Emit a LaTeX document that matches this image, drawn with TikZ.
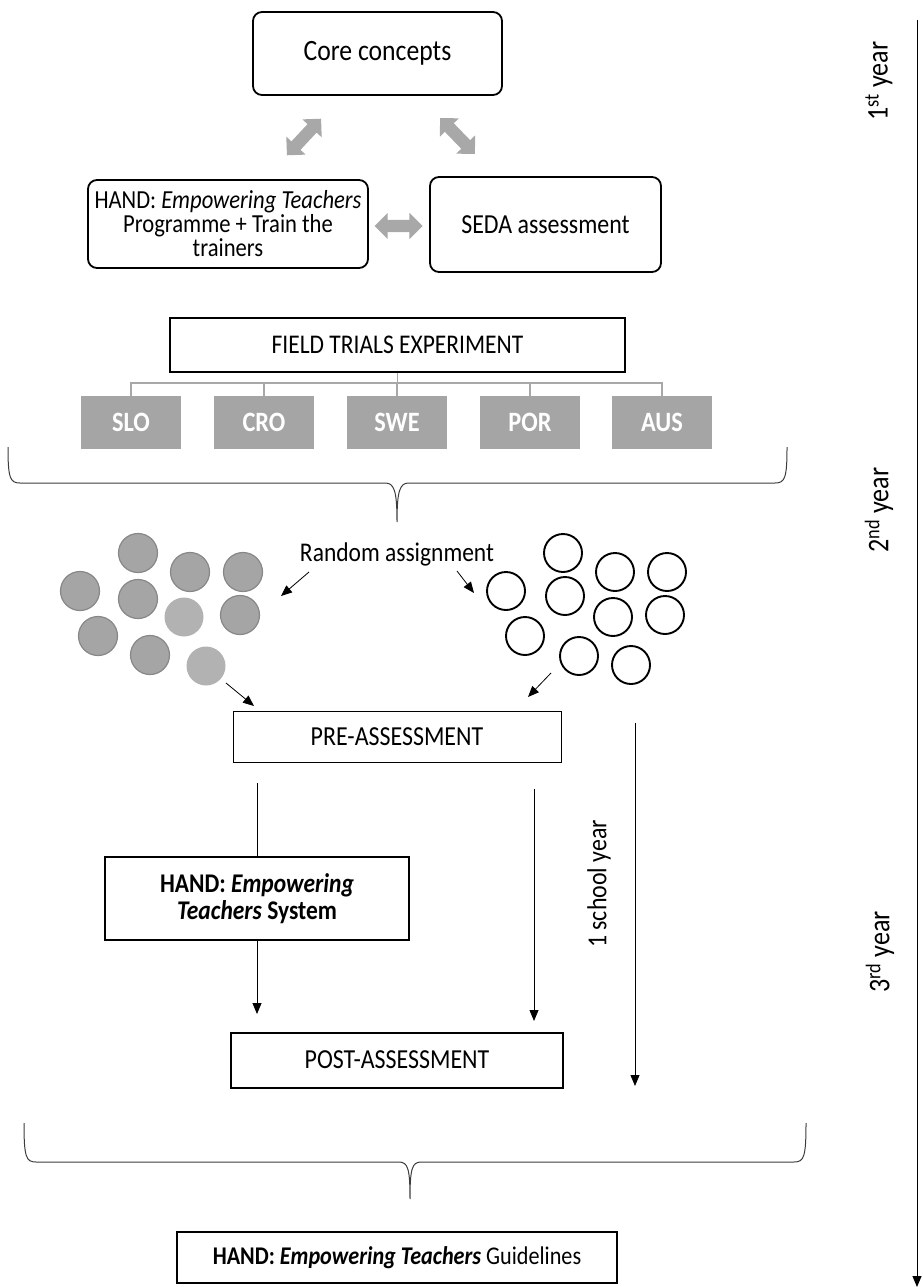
\documentclass[tikz,border=0pt]{standalone}
\usepackage{fontspec}
\setmainfont{Carlito}[FakeStretch=0.87]
\usetikzlibrary{arrows.meta,shapes.arrows}
\definecolor{cgray}{RGB}{165,165,165}
\definecolor{cgrayd}{RGB}{135,135,135}
\definecolor{lgray}{RGB}{178,178,178}
\definecolor{agray}{RGB}{168,168,168}
\definecolor{bracec}{RGB}{60,60,60}
\begin{document}
\begin{tikzpicture}[x=1pt,y=-1pt,
  txt/.style={font=\fontsize{27}{28}\selectfont},
  rbox/.style={draw,line width=1.8pt,rounded corners=9pt,inner sep=0,align=center,txt},
  sbox/.style={draw,line width=2pt,inner sep=0,align=center,txt},
  cbox/.style={fill=cgray,text=white,font=\fontsize{28}{30}\selectfont\bfseries,minimum width=100,minimum height=53,inner sep=0},
  garrow/.style={double arrow,fill=agray,draw=none,inner sep=6pt,minimum width=26,minimum height=50,double arrow head extend=7pt},
  gc/.style={circle,fill=cgray,draw=cgrayd,line width=1.2pt,minimum size=39,inner sep=0},
  lc/.style={circle,fill=lgray,minimum size=39,inner sep=0},
  wc/.style={circle,draw,line width=1.9pt,minimum size=38,inner sep=0},
  conn/.style={draw=agray,line width=1.5pt},
  arr/.style={line width=0.8pt,-{Triangle[length=11pt,width=9pt]}},
  brace/.style={draw=bracec,line width=1pt},
  ylab/.style={rotate=90,font=\fontsize{30}{32}\selectfont}
]
\useasboundingbox (0,0) rectangle (923,1287);

% top boxes
\node[rbox,minimum width=249,minimum height=83,font=\fontsize{29.5}{31}\selectfont] (core) at (377.5,53.5) {Core concepts};
\node[rbox,minimum width=280,minimum height=88,font=\fontsize{26}{24}\selectfont] (hand) at (228,224) {HAND: \textit{Empowering Teachers}\\Programme + Train the\\trainers};
\node[rbox,minimum width=231,minimum height=95,font=\fontsize{27.5}{29}\selectfont] (seda) at (545.5,224.5) {SEDA assessment};

\node[garrow,rotate=47] (ga1) at (304,137) {};
\node[garrow,rotate=-46] (ga2) at (457.5,136) {};
\node[garrow,minimum height=48] (ga3) at (398.5,226) {};

% field trials
\node[sbox,line width=2.4pt,minimum width=455,minimum height=54] (field) at (397.5,345) {FIELD TRIALS EXPERIMENT};
\node[cbox] (slo) at (131,422.5) {SLO};
\node[cbox] (cro) at (264,422.5) {CRO};
\node[cbox] (swe) at (397,422.5) {SWE};
\node[cbox] (por) at (530,422.5) {POR};
\node[cbox] (aus) at (662,422.5) {AUS};
\coordinate (bus) at (397.5,383);
\draw[conn] (field.south) -- (bus);
\draw[conn] (slo.north) |- (bus) -| (aus.north);
\draw[conn] (cro.north) -- (cro.north |- bus);
\draw[conn] (swe.north) -- (swe.north |- bus);
\draw[conn] (por.north) -- (por.north |- bus);

% brace 1
\draw[brace] (8,447) .. controls (8,478) and (10,483) .. (20,483) -- (385,483)
  .. controls (394,483) and (397,490) .. (397,522)
  .. controls (397,490) and (400,483) .. (409,483) -- (775,483)
  .. controls (785,483) and (787,478) .. (787,447);

% circles
\node[gc] (c1) at (138,553) {};
\node[gc] (c2) at (190,572) {};
\node[gc] (c3) at (243,572) {};
\node[gc] (c4) at (80,591) {};
\node[gc] (c5) at (138,599) {};
\node[lc] (c6) at (184,617) {};
\node[gc] (c7) at (240,615) {};
\node[gc] (c8) at (98,636) {};
\node[gc] (c9) at (150,655) {};
\node[lc] (c10) at (206,666) {};

\node[wc] (w1) at (563,553) {};
\node[wc] (w2) at (615,572) {};
\node[wc] (w3) at (667,572) {};
\node[wc] (w4) at (506,591) {};
\node[wc] (w5) at (565,596) {};
\node[wc] (w6) at (613,617) {};
\node[wc] (w7) at (665,615) {};
\node[wc] (w8) at (525,636) {};
\node[wc] (w9) at (579,656) {};
\node[wc] (w10) at (631,665) {};

\node[txt,inner sep=0] (rand) at (397,554) {Random assignment};
\coordinate (ra1) at (309,572); \coordinate (ra2) at (281,596);
\coordinate (rb1) at (457,571); \coordinate (rb2) at (474,593);
\coordinate (rc1) at (226,683); \coordinate (rc2) at (254,706);
\coordinate (rd1) at (551,673); \coordinate (rd2) at (528,697);
\draw[arr] (ra1) -- (ra2);
\draw[arr] (rb1) -- (rb2);
\draw[arr] (rc1) -- (rc2);
\draw[arr] (rd1) -- (rd2);

% pre/post
\node[draw,line width=1pt,minimum width=328,minimum height=51,inner sep=0,font=\fontsize{27.5}{29}\selectfont] (pre) at (397,737) {PRE-ASSESSMENT};
\node[sbox,line width=2.4pt,minimum width=304,minimum height=83,font=\fontsize{27}{27}\selectfont\bfseries] (sys) at (257,898.5) {HAND: \textit{Empowering}\\\textit{Teachers} System};
\node[sbox,minimum width=332,minimum height=55,font=\fontsize{27.5}{29}\selectfont] (post) at (397,1060) {POST-ASSESSMENT};
\node[sbox,line width=2.4pt,minimum width=440,minimum height=51,font=\fontsize{25.5}{27}\selectfont] (guide) at (397,1257.5) {\textbf{HAND: \textit{Empowering Teachers}} Guidelines};

\coordinate (l1) at (257,783);
\coordinate (l2) at (257,1014);
\draw[line width=0.8pt] (l1) -- (sys.north);
\draw[arr] (sys.south) -- (l2);
\coordinate (m1) at (534,789); \coordinate (m2) at (534,1021);
\draw[arr] (m1) -- (m2);
\coordinate (r1) at (635,723); \coordinate (r2) at (635,1086);
\draw[arr] (r1) -- (r2);
\node[ylab,font=\fontsize{27.5}{29}\selectfont] (school) at (599,884) {1 school year};

% brace 2
\draw[brace] (24,1123) .. controls (24,1157) and (26,1162) .. (36,1162) -- (399,1162)
  .. controls (408,1162) and (410,1169) .. (410,1199)
  .. controls (410,1169) and (412,1162) .. (421,1162) -- (794,1162)
  .. controls (804,1162) and (806,1157) .. (806,1123);

% timeline
\coordinate (t1) at (917,20);
\coordinate (t2) at (917,1287);
\draw[line width=1pt,-{Triangle[length=11pt,width=9pt]}] (t1) -- (t2);
\node[ylab] (y1) at (879,81) {1\textsuperscript{st} year};
\node[ylab] (y2) at (879,510) {2\textsuperscript{nd} year};
\node[ylab] (y3) at (880,952) {3\textsuperscript{rd} year};
\end{tikzpicture}
\end{document}
